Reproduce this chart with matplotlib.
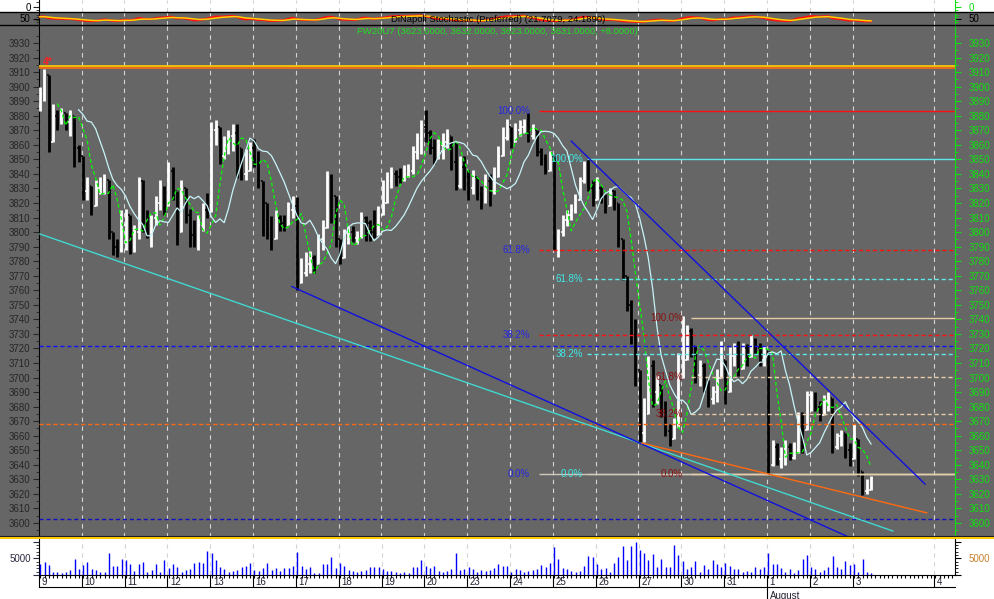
import numpy as np
import pandas as pd
import matplotlib
matplotlib.use('Agg')
import matplotlib.pyplot as plt
import matplotlib.transforms as mtransforms
from matplotlib.lines import Line2D
from matplotlib.patches import Rectangle

plt.rcParams['font.family'] = ['Liberation Sans', 'DejaVu Sans']

# ---- data: 10 bars per trading day, FW20U7 ----
day_labels = ['9', '10', '11', '12', '13', '16', '17', '18', '19', '20', '23',
              '24', '25', '26', '27', '30', '31', '1', '2', '3', '4']
day_pos = [0, 10, 20, 30, 40, 50, 60, 70, 80, 90, 100,
           110, 120, 130, 140, 150, 160, 170, 180, 190, 209]

first_open = 3887
close = [
    3895, 3908, 3862, 3880, 3878, 3882, 3876, 3880, 3858, 3852,  # 9
    3828, 3832, 3818, 3830, 3832, 3836, 3800, 3790, 3788, 3805,  # 10
    3812, 3790, 3800, 3835, 3805, 3800, 3810, 3820, 3830, 3818,  # 11
    3842, 3828, 3800, 3830, 3812, 3798, 3795, 3805, 3815, 3814,  # 12
    3870, 3872, 3852, 3860, 3866, 3868, 3858, 3840, 3842, 3858,  # 13
    3850, 3835, 3820, 3802, 3795, 3810, 3806, 3805, 3815, 3818,  # 16
    3765, 3772, 3778, 3782, 3778, 3795, 3803, 3838, 3825, 3795,  # 17
    3782, 3795, 3800, 3796, 3797, 3810, 3806, 3800, 3798, 3812,  # 18
    3820, 3835, 3840, 3838, 3836, 3840, 3842, 3855, 3865, 3872,  # 19
    3868, 3858, 3850, 3860, 3862, 3866, 3848, 3832, 3845, 3838,  # 20
    3830, 3838, 3826, 3822, 3835, 3828, 3838, 3852, 3865, 3872,  # 23
    3862, 3870, 3872, 3874, 3866, 3870, 3855, 3850, 3842, 3852,  # 24
    3795, 3800, 3808, 3812, 3815, 3822, 3835, 3846, 3830, 3822,  # 25
    3830, 3825, 3818, 3828, 3820, 3795, 3770, 3750, 3730, 3705,  # 26
    3662, 3675, 3708, 3690, 3695, 3676, 3663, 3658, 3666, 3700,  # 27
    3712, 3732, 3722, 3702, 3708, 3698, 3685, 3690, 3700, 3712,  # 30
    3690, 3715, 3720, 3706, 3720, 3714, 3726, 3720, 3712, 3718,  # 31
    3640, 3652, 3644, 3648, 3652, 3645, 3650, 3672, 3664, 3688,  # 1
    3688, 3680, 3674, 3684, 3686, 3652, 3660, 3662, 3650, 3644,  # 2
    3658, 3636, 3622, 3623, 3631,                                # 3
]
high = [
    3900, 3912, 3905, 3888, 3884, 3885, 3882, 3884, 3880, 3860,
    3852, 3838, 3826, 3836, 3838, 3840, 3832, 3800, 3795, 3815,
    3816, 3812, 3805, 3838, 3836, 3815, 3812, 3825, 3836, 3832,
    3848, 3845, 3822, 3836, 3828, 3816, 3808, 3812, 3820, 3827,
    3876, 3877, 3872, 3866, 3870, 3874, 3874, 3858, 3857, 3862,
    3864, 3856, 3831, 3815, 3811, 3815, 3812, 3812, 3821, 3825,
    3824, 3782, 3786, 3787, 3784, 3799, 3808, 3842, 3840, 3815,
    3795, 3802, 3804, 3804, 3801, 3814, 3811, 3808, 3815, 3818,
    3836, 3841, 3845, 3843, 3844, 3846, 3847, 3859, 3868, 3877,
    3884, 3870, 3864, 3864, 3868, 3871, 3862, 3862, 3852, 3852,
    3843, 3843, 3838, 3832, 3840, 3840, 3845, 3859, 3872, 3878,
    3870, 3875, 3877, 3878, 3882, 3874, 3866, 3858, 3854, 3856,
    3842, 3802, 3812, 3815, 3819, 3826, 3838, 3849, 3850, 3836,
    3838, 3832, 3826, 3830, 3829, 3817, 3792, 3769, 3753, 3740,
    3705, 3686, 3715, 3712, 3702, 3692, 3684, 3668, 3672, 3717,
    3742, 3736, 3734, 3717, 3712, 3710, 3696, 3694, 3706, 3725,
    3702, 3721, 3724, 3725, 3724, 3723, 3729, 3727, 3724, 3722,
    3718, 3657, 3655, 3652, 3657, 3655, 3656, 3676, 3676, 3691,
    3691, 3690, 3684, 3688, 3690, 3671, 3662, 3664, 3662, 3655,
    3668, 3650, 3635, 3630, 3632,
]
low = [
    3883, 3890, 3855, 3862, 3870, 3874, 3870, 3866, 3845, 3848,
    3822, 3822, 3812, 3824, 3826, 3826, 3795, 3784, 3783, 3786,
    3788, 3785, 3786, 3795, 3800, 3796, 3790, 3805, 3815, 3812,
    3818, 3822, 3791, 3806, 3806, 3790, 3790, 3788, 3801, 3810,
    3852, 3860, 3847, 3850, 3854, 3856, 3837, 3836, 3836, 3847,
    3845, 3830, 3797, 3795, 3788, 3797, 3801, 3801, 3807, 3810,
    3760, 3768, 3770, 3772, 3772, 3781, 3788, 3812, 3806, 3790,
    3778, 3782, 3792, 3793, 3792, 3796, 3794, 3794, 3796, 3798,
    3812, 3820, 3830, 3832, 3834, 3835, 3838, 3840, 3850, 3854,
    3862, 3854, 3847, 3852, 3850, 3858, 3843, 3829, 3830, 3829,
    3822, 3826, 3822, 3816, 3820, 3818, 3826, 3845, 3856, 3863,
    3858, 3862, 3866, 3868, 3862, 3864, 3852, 3846, 3840, 3845,
    3788, 3783, 3797, 3804, 3808, 3813, 3822, 3834, 3828, 3818,
    3824, 3820, 3813, 3824, 3815, 3790, 3767, 3746, 3723, 3694,
    3655, 3656, 3676, 3680, 3682, 3673, 3660, 3653, 3660, 3667,
    3707, 3712, 3714, 3696, 3694, 3690, 3680, 3682, 3683, 3700,
    3682, 3703, 3708, 3701, 3710, 3708, 3719, 3716, 3708, 3708,
    3634, 3639, 3640, 3638, 3640, 3643, 3644, 3648, 3648, 3668,
    3677, 3677, 3670, 3674, 3677, 3648, 3651, 3653, 3645, 3639,
    3645, 3632, 3619, 3620, 3623,
]
volume = [
    3300, 3800, 3000, 800, 800, 500, 800, 1500, 4700, 1700,
    3000, 4000, 1700, 1500, 800, 1000, 6700, 2700, 2700, 4700,
    4500, 3300, 1200, 3300, 3800, 1000, 1500, 3300, 1000, 4500,
    2000, 3300, 2500, 1000, 1500, 1700, 3500, 3800, 3500, 7200,
    6700, 4500, 2300, 1700, 800, 1300, 1500, 2300, 2700, 3600,
    1500, 1300, 2000, 3500, 1500, 2000, 1300, 2000, 2200, 2700,
    7000, 2700, 1700, 2300, 700, 700, 3300, 3300, 5500, 2000,
    3700, 2700, 1500, 1300, 1000, 1300, 1500, 2300, 2300, 2300,
    1700, 1200, 1200, 800, 500, 800, 700, 2300, 2300, 4500,
    2700, 2200, 2700, 1300, 800, 1300, 1700, 6500, 1500, 1700,
    2300, 1700, 800, 1500, 1300, 1500, 2000, 3300, 2700, 2700,
    1000, 1800, 1500, 800, 1200, 1500, 1800, 3000, 2500, 3700,
    8500, 4700, 2000, 1700, 1300, 1000, 1300, 2800, 5700, 5500,
    3300, 1700, 2000, 1000, 3500, 5500, 8700, 4500, 8700, 10000,
    7500, 6500, 4500, 6300, 2500, 4700, 2500, 2500, 9000, 6000,
    4300, 1700, 2500, 4300, 1000, 3000, 1700, 4500, 3300, 2500,
    3500, 2700, 1700, 1700, 1000, 1300, 1000, 2500, 1700, 2500,
    6700, 3300, 3300, 2000, 1000, 1700, 500, 1500, 4700, 6000,
    2300, 1700, 1000, 1500, 2500, 5700, 2500, 1700, 4300, 3000,
    3300, 1000, 4700, 800, 500,
]

# drawn studies
fib_ratios = [1.0, 0.618, 0.382, 0.0]
fib_labels = ['100.0%', '61.8%', '38.2%', '0.0%']
fib_low = 3634
fib_a_high, fib_a_start = 3883, 116.5
fib_b_high, fib_b_start = 3850, 127.7
fib_c_high, fib_c_start = 3741, 152.0
level_lines = [3721.7, 3668, 3602.5]
top_lines = [3914.2, 3912.8]
cyan_tl = ([0, 199.1], [3798.7, 3594.5])
blue_tl = ([58.8, 188.3], [3762.6, 3591.0])
orange_tl = ([140.5, 207.0], [3655.0, 3607.0])
down_tl = ([124.0, 206.6], [3862.6, 3626.8])

close = np.array(close, float)
high = np.array(high, float)
low = np.array(low, float)
volume = np.array(volume, float)
pos = np.arange(len(close))
opn = np.r_[first_open, close[:-1]]
high = np.maximum(high, np.maximum(opn, close))
low = np.minimum(low, np.minimum(opn, close))

cs = pd.Series(close)
ma_fast = cs.rolling(3).mean().shift(2)
ma_slow = cs.rolling(6).mean().shift(4)
hh = pd.Series(high).rolling(6, min_periods=1).max()
ll = pd.Series(low).rolling(6, min_periods=1).min()
k_raw = (cs - ll) / (hh - ll) * 100
st_k = k_raw.ewm(alpha=1 / 3, adjust=False).mean()
st_d = st_k.ewm(alpha=1 / 3, adjust=False).mean()

# ---- layout ----
W, H = 994, 599
GRAY = '#666666'
GREEN = '#10e010'
XL = (-0.23, 213.6)
fig = plt.figure(figsize=(W / 100, H / 100), dpi=100, facecolor='white')
fig.patches.append(Rectangle((0, 1 - 537 / H), 1, 525 / H, transform=fig.transFigure,
                             facecolor=GRAY, edgecolor='none', zorder=-5))


def px_axes(x0, y0, x1, y1):
    return fig.add_axes([x0 / W, 1 - y1 / H, (x1 - x0) / W, (y1 - y0) / H])


def fig_hline(y, color, lw, x0=0, x1=W):
    fig.add_artist(Line2D([x0 / W, x1 / W], [1 - y / H, 1 - y / H],
                          transform=fig.transFigure, color=color, lw=lw))


def style(ax, face, right_color):
    ax.set_facecolor(face)
    ax.set_xlim(*XL)
    ax.spines['top'].set_visible(False)
    ax.spines['bottom'].set_visible(False)
    ax.spines['left'].set_color('black')
    ax.spines['right'].set_visible(False)
    ax.tick_params(axis='x', bottom=False, labelbottom=False)
    ax.tick_params(axis='y', which='both', colors='#262626', labelsize=7, pad=2)
    ax.tick_params(axis='y', which='major', length=4)
    ax.tick_params(axis='y', which='minor', length=2)
    for d in day_pos:
        ax.axvline(d - 0.3, color='#d4d4d4', lw=0.8, ls=(0, (4, 4)), zorder=1)
    axr = ax.twinx()
    axr.set_xlim(*XL)
    for s in ['top', 'bottom', 'left']:
        axr.spines[s].set_visible(False)
    axr.spines['right'].set_color(right_color)
    axr.tick_params(axis='y', which='both', colors=right_color, labelsize=7, pad=5)
    axr.tick_params(axis='y', which='major', length=4.5)
    axr.tick_params(axis='y', which='minor', length=2)
    return axr


# top strip
ax_top = px_axes(39, 0, 955, 12)
axr = style(ax_top, 'white', GREEN)
for a in (ax_top, axr):
    a.set_ylim(12, 0)
    a.set_yticks([7], ['0'])
    a.set_yticks([2, 10], minor=True)
ax_top.tick_params(axis='y', labelcolor='black')

# stochastic panel
ax_st = px_axes(39, 12, 955, 25)
axr = style(ax_st, GRAY, GREEN)
for a in (ax_st, axr):
    a.set_ylim(-30, 130)
    a.set_yticks([50], ['50'])
    a.set_yticks([10, 30, 70, 90], minor=True)
ax_st.tick_params(axis='y', colors='black')
axr.tick_params(axis='y', colors='black')
axr.spines['right'].set_color(GREEN)
ax_st.plot(pos, st_k, color='#ff1010', lw=1.6, zorder=3)
ax_st.plot(pos, st_d, color='#ffd000', lw=1.1, zorder=4)

# main price panel
ax = px_axes(39, 25, 955, 537)
axr = style(ax, GRAY, GREEN)
ylim = (3590.4, 3942.4)
for a in (ax, axr):
    a.set_ylim(*ylim)
    a.set_yticks(np.arange(3600, 3931, 10))
    a.set_yticks(np.arange(3595, 3940, 10), minor=True)

up = close >= opn
for m, col in ((up, 'white'), (~up, 'black')):
    ax.vlines(pos[m], low[m], high[m], color=col, lw=2.0, zorder=3)
    ax.hlines(opn[m], pos[m] - 0.4, pos[m], color=col, lw=1.1, zorder=3)
    ax.hlines(close[m], pos[m], pos[m] + 0.4, color=col, lw=1.1, zorder=3)

ax.plot(pos, ma_fast, color='#00ff00', lw=0.9, ls=(0, (3, 2)), zorder=4)
ax.plot(pos, ma_slow, color='#c8f4f8', lw=0.9, zorder=4)

ax.axhline(top_lines[0], color='#ffd000', lw=1.2, zorder=5)
ax.axhline(top_lines[1], color='#ff6a10', lw=1.2, zorder=5)
ax.text(0.7, 3913.5, '4*', color='#ff2020', fontsize=7.5, fontweight='bold',
        va='bottom', ha='left', zorder=6)

ax.axhline(level_lines[0], color='#1010ff', lw=1.0, ls=(0, (3, 2)), zorder=5)
ax.axhline(level_lines[1], color='#ff6a10', lw=1.0, ls=(0, (3, 2)), zorder=5)
ax.axhline(level_lines[2], color='#1010c0', lw=1.0, ls=(0, (3, 2)), zorder=5)

fib_sets = [
    (fib_a_high, fib_a_start, '#ff1010', '#ff1010', '#d0c8bc', '#2828e0', 114.4),
    (fib_b_high, fib_b_start, '#60e8e8', '#60e8e8', '#d0c8bc', '#40e8e8', 126.7),
    (fib_c_high, fib_c_start, '#e8cca8', '#e8cca8', '#e8cca8', '#8a1010', 150.1),
]
for hi_, x0, c_top, c_mid, c_zero, c_lab, lab_x in fib_sets:
    for r, lab in zip(fib_ratios, fib_labels):
        lvl = fib_low + r * (hi_ - fib_low)
        if r == 1.0:
            c, ls = c_top, '-'
        elif r == 0.0:
            c, ls = c_zero, '-'
        else:
            c, ls = c_mid, (0, (3, 2))
        ax.plot([x0, XL[1]], [lvl, lvl], color=c, lw=1.0, ls=ls, zorder=5,
                solid_capstyle='butt')
        ax.text(lab_x, lvl, lab, color=c_lab, fontsize=7, ha='right',
                va='center', zorder=6)

ax.plot(*cyan_tl, color='#40d8d0', lw=1.0, zorder=5)
ax.plot(*blue_tl, color='#1010e0', lw=1.0, zorder=5)
ax.plot(*orange_tl, color='#ff6a10', lw=1.0, zorder=5)
ax.plot(*down_tl, color='#1010e0', lw=1.0, zorder=5)

# volume panel
ax_v = px_axes(39, 538, 955, 575)
axr = style(ax_v, 'white', 'black')
vmax = 37 / 16.7 * 5000
for a in (ax_v, axr):
    a.set_ylim(0, vmax)
    a.set_yticks([0, 5000, 10000], ['', '5000', ''])
    a.set_yticks(np.arange(1000, 11000, 1000), minor=True)
ax_v.tick_params(axis='y', colors='#2a2a40')
axr.tick_params(axis='y', colors='black', labelcolor='#c8822c')
ax_v.spines['bottom'].set_visible(True)
ax_v.spines['bottom'].set_color('black')
ax_v.vlines(pos, 0, volume, color='#0000ff', lw=1.0, zorder=3)
ax_v.set_xticks([d - 0.3 for d in day_pos])
ax_v.set_xticks(np.arange(0, 214, 1), minor=True)
ax_v.tick_params(axis='x', which='both', bottom=True, labelbottom=False,
                 direction='out', color='black', width=0.8)
ax_v.tick_params(axis='x', which='major', length=8.6)
ax_v.tick_params(axis='x', which='minor', length=2.2)

tr = mtransforms.blended_transform_factory(ax_v.transData, ax_v.transAxes)
for d, lab in zip(day_pos, day_labels):
    ax_v.text(d + 0.3, -0.05, lab, transform=tr, ha='left', va='top',
              fontsize=7, color='#202030', clip_on=False)
ax_v.plot([170 - 0.3, 170 - 0.3], [-0.324, -0.68], transform=tr, color='black',
          lw=0.8, clip_on=False)
ax_v.text(170.3, -0.42, 'August', transform=tr, ha='left', va='top',
          fontsize=7, color='#202030', clip_on=False)

# panel borders
fig_hline(12, 'black', 1.0)
fig_hline(25, 'black', 1.0)
fig_hline(536, '#202020', 0.8)
fig_hline(537.5, '#ffc800', 1.4)
fig_hline(587, 'black', 0.8, 39, 955)

fig.text(391 / W, 1 - 19 / H, 'DiNapoli Stochastic (Preferred) (21.7079, 24.1890)',
         fontsize=6.8, color='black', ha='left', va='center')
fig.text(357 / W, 1 - 32 / H,
         'FW20U7 (3623.0000, 3632.0000, 3623.0000, 3631.0000, +8.0000)',
         fontsize=6.8, color='#20e020', ha='left', va='center')

fig.savefig('out.png', dpi=100, facecolor='white')
